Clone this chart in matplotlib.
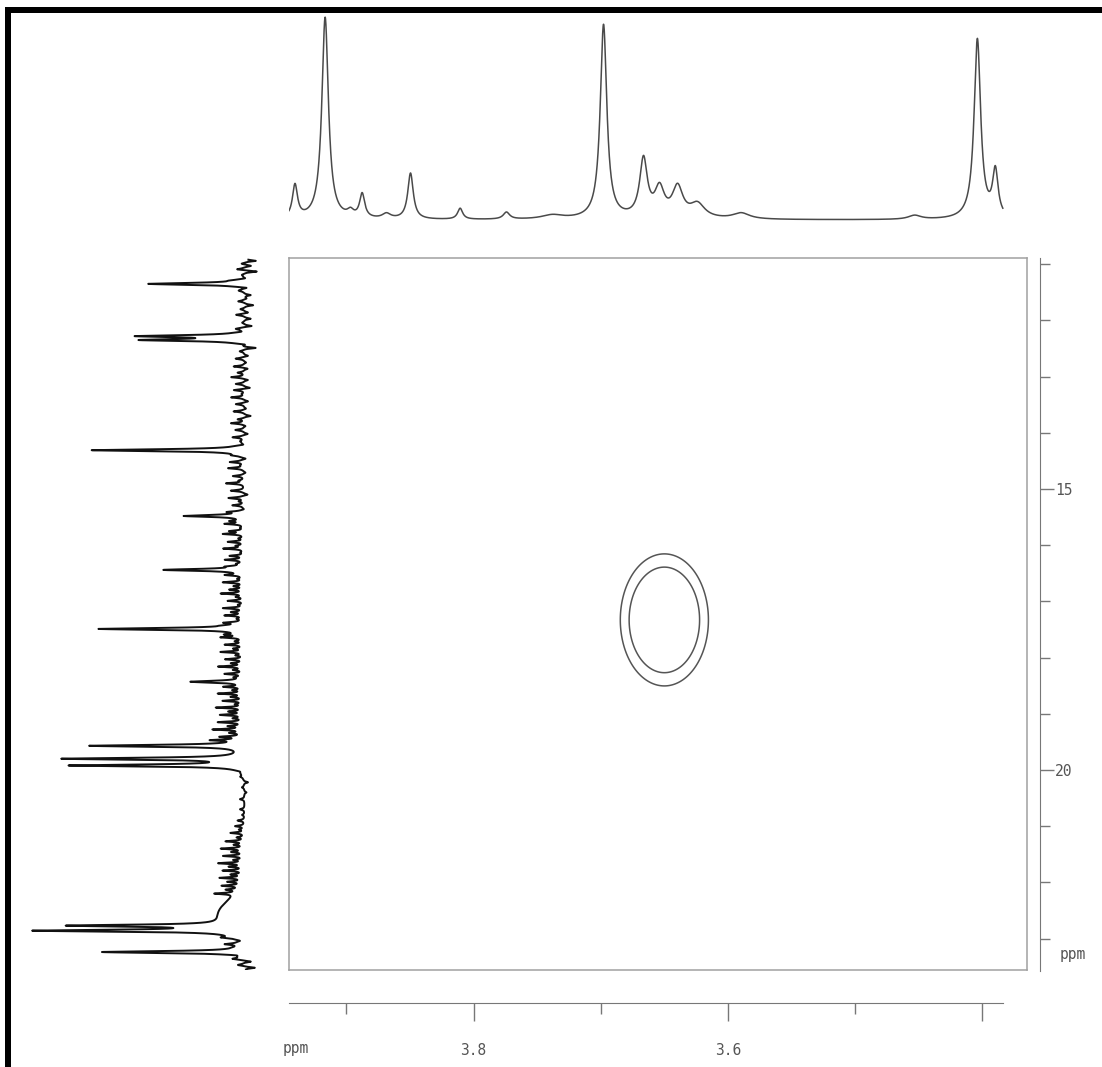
import numpy as np
import matplotlib
matplotlib.use("Agg")
import matplotlib.pyplot as plt
from matplotlib.patches import Rectangle

W, H = 1102, 1067
DPI = 100

# ---------------- data ----------------
# 1H projection (F2, top): line positions (ppm), heights, half-widths (ppm)
h_ppm = [3.9403, 3.9166, 3.8967, 3.8875, 3.8684, 3.8495, 3.8105, 3.7741, 3.7380,
         3.6978, 3.6664, 3.6538, 3.6396, 3.6240, 3.5896, 3.4533, 3.4040, 3.3899]
h_height = [16.5, 101.0, 3.0, 12.0, 2.5, 23.0, 5.5, 3.5, 2.0,
            97.0, 29.0, 14.0, 15.0, 7.0, 3.0, 2.0, 90.0, 23.0]
h_hwhm = [0.0024, 0.0031, 0.0030, 0.0024, 0.0040, 0.0026, 0.0024, 0.0030, 0.0100,
          0.0031, 0.0036, 0.0045, 0.0050, 0.0070, 0.0080, 0.0060, 0.0031, 0.0026]
h_range = (3.945, 3.384)

# 13C projection (F1, left): strong lines
c_ppm = [11.35, 12.28, 12.35, 14.31, 15.48, 16.44, 17.49, 18.43, 19.57,
         19.80, 19.92, 22.77, 22.86, 23.24]
c_height = [43.0, 45.8, 44.0, 68.0, 26.7, 35.6, 64.4, 23.6, 68.0,
            79.0, 76.0, 68.0, 86.0, 63.0]
# 13C projection: baseline ripple lines (ppm, signed height)
ripple_ppm = [10.94, 10.99, 11.03, 11.09, 11.13, 11.19, 11.25, 11.29, 11.42, 11.47,
              11.55, 11.61, 11.66, 11.73, 11.80, 11.86, 11.90, 11.97, 12.04, 12.10,
              12.15, 12.20,
              12.43, 12.49, 12.55, 12.63, 12.68, 12.75, 12.82, 12.86, 12.93, 13.01,
              13.06, 13.13, 13.20, 13.24, 13.31, 13.37, 13.44, 13.49, 13.57, 13.62,
              13.70, 13.76, 13.83, 13.88, 13.95, 14.02, 14.08, 14.15, 14.21,
              14.40, 14.46, 14.52, 14.58, 14.63, 14.71, 14.77, 14.85, 14.90, 14.97,
              15.03, 15.10, 15.16, 15.22, 15.29, 15.36, 15.41,
              15.57, 15.62, 15.69, 15.75, 15.80, 15.88, 15.94, 16.01, 16.06, 16.13,
              16.19, 16.26, 16.33, 16.38,
              16.53, 16.60, 16.66, 16.73, 16.79, 16.86, 16.92, 16.99, 17.06, 17.12,
              17.19, 17.25, 17.31, 17.38, 17.43,
              17.59, 17.64, 17.71, 17.77, 17.84, 17.90, 17.96, 18.03, 18.10, 18.16,
              18.22, 18.29, 18.35,
              18.52, 18.58, 18.64, 18.70, 18.77, 18.83, 18.89, 18.96, 19.02, 19.08,
              19.15, 19.22, 19.28, 19.34, 19.41, 19.47,
              20.03, 20.12, 20.22, 20.31, 20.40, 20.52, 20.61, 20.70, 20.80, 20.90,
              21.00, 21.06, 21.12, 21.20, 21.27, 21.33, 21.40, 21.46, 21.53, 21.60,
              21.66, 21.72, 21.79, 21.86, 21.92, 21.99, 22.06, 22.13, 22.20,
              22.98, 23.04, 23.10, 23.16, 23.30, 23.36, 23.41, 23.47, 23.52]
ripple_amp = [-5, 2, -3, 4, -6, 1, -2, 3, -4, 2,
              -3, -1, 3, -4, 2, -2, 4, -3, 1, -4,
              3, -2,
              -3, -6, 2, -2, 4, -1, 5, -2, 3, 6,
              -2, 4, -3, 5, 1, 6, -2, 4, -1, 5,
              -3, 3, 6, -1, 4, -2, 5, 1, -2,
              3, -2, 6, 1, 7, -1, 5, 2, 8, 0,
              6, -2, 7, 2, 5, -1, 6,
              5, 8, 1, 6, 9, 2, 7, 3, 9, 1,
              6, 8, 2, 5,
              7, 2, 9, 4, 6, 10, 3, 7, 2, 9,
              5, 8, 2, 7, 4,
              6, 9, 3, 8, 4, 10, 3, 8, 5, 11,
              4, 8, 3,
              8, 4, 11, 5, 9, 3, 12, 6, 10, 4,
              11, 6, 13, 5, 9, 12,
              -1, 1, -2, 1, -1, 2, 0, 2, 1, 3,
              4, 2, 6, 3, 8, 4, 10, 5, 9, 4,
              11, 6, 9, 5, 10, 6, 8, 5, 9,
              5, -2, 6, 1, -3, 4, -4, 3, -5]
# broad baseline roll just before the 22.8 ppm doublet
c_hump = (22.55, 11.0, 0.25)

# HSQC cross peak: centre (F2 ppm, F1 ppm), widths, contour levels
cross_center = (3.650, 17.33)
cross_sigma = (0.0173, 0.587)
contour_levels = [0.135, 0.278]

# axis settings
f2_lim = (3.945, 3.365)
f1_lim = (23.56, 10.89)
f2_ticks_major = [3.8, 3.6, 3.4]
f2_labels = ["3.8", "3.6", ""]
f2_ticks_minor = [3.9, 3.7, 3.5]
f1_ticks_major = [15, 20]
f1_ticks_minor = [11, 12, 13, 14, 16, 17, 18, 19, 21, 22, 23]


def lorentz_sum(x, pos, amp, hw):
    y = np.zeros_like(x)
    for p, a, w in zip(pos, amp, hw):
        y += a / (1.0 + ((x - p) / w) ** 2)
    return y


fig = plt.figure(figsize=(W / DPI, H / DPI), dpi=DPI)
fig.patch.set_facecolor("white")


def fx(px):
    return px / W


def fy(py):
    return 1 - py / H


txt_kw = dict(family="DejaVu Sans Mono", color="#555555", fontsize=10.5)
scale_grey = "#777777"

# ---------------- main 2D panel ----------------
ax = fig.add_axes([fx(289), fy(970), fx(1027) - fx(289), fy(258) - fy(970)])
ax.set_xlim(*f2_lim)
ax.set_ylim(*f1_lim)
ax.set_xticks([])
ax.set_yticks([])
for s in ax.spines.values():
    s.set_color("#a0a0a0")
    s.set_linewidth(1.1)

gx = np.linspace(3.55, 3.75, 400)
gy = np.linspace(15.0, 19.7, 400)
GX, GY = np.meshgrid(gx, gy)
Z = np.exp(-0.5 * ((GX - cross_center[0]) / cross_sigma[0]) ** 2
           - 0.5 * ((GY - cross_center[1]) / cross_sigma[1]) ** 2)
ax.contour(GX, GY, Z, levels=contour_levels, colors="#555555", linewidths=1.1)

# ---------------- top 1H projection ----------------
axt = fig.add_axes([fx(289), fy(225), fx(1027) - fx(289), fy(12) - fy(225)])
xh = np.linspace(h_range[0], h_range[1], 6000)
yh = lorentz_sum(xh, h_ppm, h_height, h_hwhm)
axt.plot(xh, yh, color="#4a4a4a", lw=1.1)
axt.set_xlim(*f2_lim)
axt.set_ylim(-2.5, 104)
axt.axis("off")

# ---------------- left 13C projection ----------------
axl = fig.add_axes([fx(15), fy(970), fx(270) - fx(15), fy(258) - fy(970)])
yc = np.linspace(10.92, 23.55, 20000)
xc = lorentz_sum(yc, c_ppm, c_height, [0.02] * len(c_ppm))
xc += lorentz_sum(yc, ripple_ppm, ripple_amp, [0.014] * len(ripple_ppm))
xc += c_hump[1] * np.exp(-0.5 * ((yc - c_hump[0]) / c_hump[2]) ** 2)
axl.plot(xc, yc, color="#111111", lw=1.4)
axl.set_xlim(102.2, -11.1)
axl.set_ylim(*f1_lim)
axl.axis("off")

# ---------------- bottom F2 scale ----------------
axb = fig.add_axes([fx(289), fy(1003), fx(1027) - fx(289), 0.0005])
axb.set_xlim(*f2_lim)
axb.set_yticks([])
for k in ("top", "left", "right"):
    axb.spines[k].set_visible(False)
axb.spines["bottom"].set_bounds(h_range[0], h_range[1])
axb.spines["bottom"].set_color(scale_grey)
axb.set_facecolor("none")
axb.set_xticks(f2_ticks_major)
axb.set_xticklabels(f2_labels, **txt_kw)
axb.set_xticks(f2_ticks_minor, minor=True)
axb.tick_params(axis="x", which="major", direction="out", length=13, width=1.0,
                color=scale_grey, pad=16)
axb.tick_params(axis="x", which="minor", direction="out", length=8, width=1.0,
                color=scale_grey)
fig.text(fx(296), fy(1049), "ppm", ha="center", va="center", **txt_kw)

# ---------------- right F1 scale ----------------
axr = fig.add_axes([fx(1040) - 0.0005, fy(970), 0.0005, fy(258) - fy(970)])
axr.set_ylim(*f1_lim)
axr.set_xticks([])
for k in ("top", "bottom", "left"):
    axr.spines[k].set_visible(False)
axr.spines["right"].set_color(scale_grey)
axr.spines["right"].set_bounds(f1_lim[0] + 0.02, f1_lim[1])
axr.set_facecolor("none")
axr.yaxis.set_ticks_position("right")
axr.set_yticks(f1_ticks_major)
axr.set_yticklabels([str(v) for v in f1_ticks_major], **txt_kw)
axr.set_yticks(f1_ticks_minor, minor=True)
axr.tick_params(axis="y", which="major", direction="out", length=10, width=1.0,
                color=scale_grey, pad=1)
axr.tick_params(axis="y", which="minor", direction="out", length=7, width=1.0,
                color=scale_grey)
fig.text(fx(1073), fy(955), "ppm", ha="center", va="center", **txt_kw)

# ---------------- page frame ----------------
fig.add_artist(Rectangle((fx(5), 0), fx(6), fy(7), transform=fig.transFigure,
                         color="black", lw=0))
fig.add_artist(Rectangle((fx(5), fy(13)), 1 - fx(5), 6 / H,
                         transform=fig.transFigure, color="black", lw=0))

fig.savefig("out.png", dpi=DPI, facecolor="white")
